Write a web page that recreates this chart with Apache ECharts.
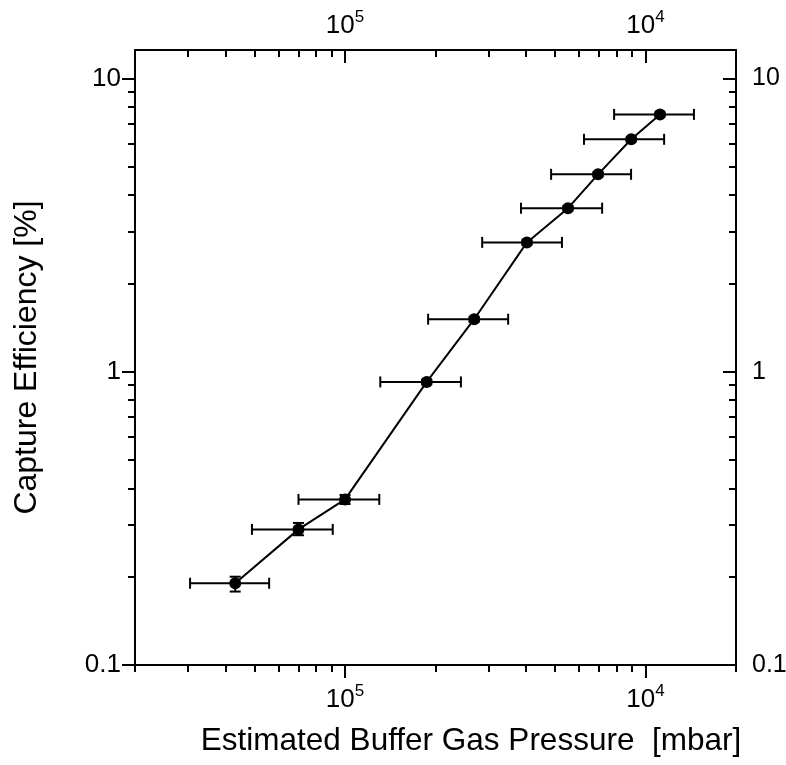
<!DOCTYPE html>
<html>
<head>
<meta charset="utf-8">
<script src="https://cdn.jsdelivr.net/npm/echarts@6/dist/echarts.min.js"></script>
<style>html,body{margin:0;padding:0;background:#fff;}#c{width:786px;height:765px;}</style>
</head>
<body>
<div id="c"></div>
<script>
// ---- data ----
const pressure   = [4.31e-6, 7.0e-6, 1.0e-5, 1.87e-5, 2.69e-5, 4.03e-5, 5.52e-5, 6.95e-5, 8.96e-5, 1.117e-4];
const efficiency = [0.190, 0.290, 0.367, 0.923, 1.51, 2.76, 3.61, 4.71, 6.20, 7.54];
const pressureLow  = [3.05e-6, 4.9e-6, 7.0e-6, 1.31e-5, 1.89e-5, 2.86e-5, 3.85e-5, 4.85e-5, 6.24e-5, 7.86e-5];
const pressureHigh = [5.59e-6, 9.1e-6, 1.3e-5, 2.43e-5, 3.49e-5, 5.27e-5, 7.17e-5, 8.95e-5, 1.153e-4, 1.449e-4];
const efficiencyLow  = [0.178, 0.277, 0.354, 0.905, 1.48, 2.71, 3.55, 4.63, 6.10, 7.42];
const efficiencyHigh = [0.200, 0.305, 0.380, 0.941, 1.54, 2.81, 3.67, 4.79, 6.30, 7.66];

const xMajorTicks = [1e-5, 1e-4];
const xTickLabels = ['10^5', '10^4'];
const xMinorTicks = [2e-6, 3e-6, 4e-6, 5e-6, 6e-6, 7e-6, 8e-6, 9e-6,
                     2e-5, 3e-5, 4e-5, 5e-5, 6e-5, 7e-5, 8e-5, 9e-5, 2e-4];
const yMajorTicks = [0.1, 1, 10];
const yTickLabels = ['0.1', '1', '10'];
const yMinorTicks = [0.2, 0.3, 0.4, 0.5, 0.6, 0.7, 0.8, 0.9, 2, 3, 4, 5, 6, 7, 8, 9];

const xName = 'Estimated Buffer Gas Pressure  [mbar]';
const yName = 'Capture Efficiency [%]';

// ---- chart ----
const FONT = 'Liberation Sans';
const BLACK = '#000';

function findLabel(values, labels, v) {
  let best = 0, bd = Infinity;
  values.forEach((t, i) => { const d = Math.abs(Math.log10(t) - Math.log10(v)); if (d < bd) { bd = d; best = i; } });
  return labels[best];
}
const xRich = {
  b: { fontSize: 26, fontFamily: FONT, color: BLACK, verticalAlign: 'bottom', lineHeight: 30 },
  e: { fontSize: 17, fontFamily: FONT, color: BLACK, verticalAlign: 'top', lineHeight: 17 }
};
function xFmt(v) {
  const parts = findLabel(xMajorTicks, xTickLabels, v).split('^');
  return '{b|' + parts[0] + '}{e|' + parts[1] + '}';
}
function yFmt(v) { return findLabel(yMajorTicks, yTickLabels, v); }

const XMIN = 2e-6, XMAX = 2e-4, YMIN = 0.1, YMAX = 12.5;
const axisLineStyle = { color: BLACK, width: 2 };

function xAxisDef(pos, major, labels, inside) {
  return {
    type: 'log', logBase: 10, min: XMIN, max: XMAX, position: pos,
    splitLine: { show: false },
    axisLine: { show: major, lineStyle: axisLineStyle },
    axisTick: { show: true, inside: inside, length: major ? 13 : 7,
      customValues: major ? xMajorTicks : xMinorTicks,
      lineStyle: { color: BLACK, width: 2 } },
    axisLabel: { show: major && labels, customValues: xMajorTicks, formatter: xFmt, rich: xRich,
      margin: pos === 'bottom' ? 18 : 11, color: BLACK },
    minorTick: { show: false }
  };
}
function yAxisDef(pos, major, labels, inside) {
  return {
    type: 'log', logBase: 10, min: YMIN, max: YMAX, position: pos,
    splitLine: { show: false },
    axisLine: { show: major, lineStyle: axisLineStyle },
    axisTick: { show: true, inside: inside, length: major ? 13 : 7,
      customValues: major ? yMajorTicks : yMinorTicks,
      lineStyle: { color: BLACK, width: 2 } },
    axisLabel: { show: major && labels, customValues: yMajorTicks, formatter: yFmt,
      fontSize: pos === 'left' ? 26 : 25, fontFamily: FONT, color: BLACK,
      margin: pos === 'left' ? 14 : 16 },
    minorTick: { show: false }
  };
}

const xAxes = [
  xAxisDef('bottom', true, true, false),
  xAxisDef('bottom', false, false, false),
  xAxisDef('top', true, true, true),
  xAxisDef('top', false, false, true)
];
Object.assign(xAxes[0], {
  name: xName, nameLocation: 'middle', nameGap: 60,
  nameTextStyle: { fontSize: 31.5, fontFamily: FONT, color: BLACK, padding: [0, 0, 0, 71] }
});
const yAxes = [
  yAxisDef('left', true, true, false),
  yAxisDef('left', false, false, false),
  yAxisDef('right', true, true, true),
  yAxisDef('right', false, false, true)
];
Object.assign(yAxes[0], {
  name: yName, nameLocation: 'middle', nameGap: 92,
  nameTextStyle: { fontSize: 32, fontFamily: FONT, color: BLACK }
});

const errData = pressure.map((p, i) => [p, efficiency[i], pressureLow[i], pressureHigh[i], efficiencyLow[i], efficiencyHigh[i]]);
const lineData = pressure.map((p, i) => [p, efficiency[i]]);

const chart = echarts.init(document.getElementById('c'), null, { renderer: 'canvas' });
chart.setOption({
  animation: false,
  backgroundColor: '#fff',
  grid: { left: 135, top: 50, width: 601, height: 615, containLabel: false, outerBoundsMode: 'none' },
  xAxis: xAxes,
  yAxis: yAxes,
  series: [
    {
      type: 'custom', xAxisIndex: 0, yAxisIndex: 0, z: 2,
      data: errData,
      encode: { x: [0, 2, 3], y: [1, 4, 5] },
      renderItem: function (params, api) {
        const x = api.value(0), y = api.value(1);
        const l = api.coord([api.value(2), y]);
        const r = api.coord([api.value(3), y]);
        const b = api.coord([x, api.value(4)]);
        const t = api.coord([x, api.value(5)]);
        const st = { stroke: BLACK, lineWidth: 2, fill: null };
        const c = 5.5;
        const ln = (x1, y1, x2, y2) => ({ type: 'line', shape: { x1, y1, x2, y2 }, style: st });
        return { type: 'group', children: [
          ln(l[0], l[1], r[0], r[1]),
          ln(l[0], l[1] - c, l[0], l[1] + c),
          ln(r[0], r[1] - c, r[0], r[1] + c),
          ln(b[0], b[1], t[0], t[1]),
          ln(b[0] - c, b[1], b[0] + c, b[1]),
          ln(t[0] - c, t[1], t[0] + c, t[1])
        ] };
      }
    },
    {
      type: 'line', xAxisIndex: 0, yAxisIndex: 0, z: 3,
      data: lineData,
      symbol: 'circle', symbolSize: 12,
      itemStyle: { color: BLACK },
      lineStyle: { color: BLACK, width: 2 }
    }
  ]
});
</script>
</body>
</html>
